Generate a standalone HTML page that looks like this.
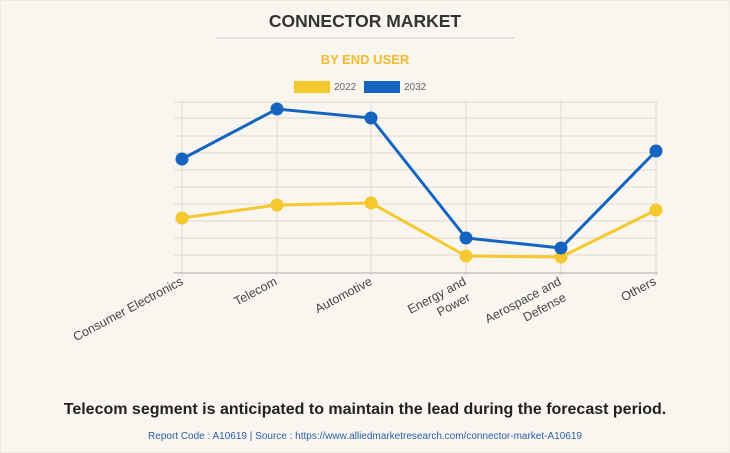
<!DOCTYPE html>
<html><head><style>
body{margin:0;background:#f9f6ef;}
svg{display:block;font-family:"Liberation Sans",Arial,sans-serif;}
</style></head><body>
<svg width="730" height="453" viewBox="0 0 730 453">
<rect x="0" y="0" width="730" height="453" fill="#f9f6ef" stroke="#e3e0da"/>
<text x="365" y="27" text-anchor="middle" font-size="17.5" font-weight="bold" fill="#333">CONNECTOR MARKET</text>
<line x1="216" y1="38" x2="514" y2="38" stroke="#ccc"/>
<text x="365" y="64" text-anchor="middle" font-size="13" font-weight="bold" fill="#f5b82e">BY END USER</text>
<rect x="294" y="81" width="36" height="12" fill="#f5c82e"/>
<text x="334" y="90" font-size="10" fill="#666">2022</text>
<rect x="364" y="81" width="36" height="12" fill="#1565c0"/>
<text x="404" y="90" font-size="10" fill="#666">2032</text>
<g stroke="#dedad2" stroke-width="1">
<line x1="174" y1="102" x2="658" y2="102"/><line x1="174" y1="118" x2="658" y2="118"/>
<line x1="174" y1="136" x2="658" y2="136"/><line x1="174" y1="153" x2="658" y2="153"/>
<line x1="174" y1="170" x2="658" y2="170"/><line x1="174" y1="187" x2="658" y2="187"/>
<line x1="174" y1="204" x2="658" y2="204"/><line x1="174" y1="221" x2="658" y2="221"/>
<line x1="174" y1="238" x2="658" y2="238"/><line x1="174" y1="255" x2="658" y2="255"/>
<line x1="182" y1="101" x2="182" y2="276"/><line x1="277" y1="101" x2="277" y2="276"/>
<line x1="371" y1="101" x2="371" y2="276"/><line x1="466" y1="101" x2="466" y2="276"/>
<line x1="561" y1="101" x2="561" y2="276"/><line x1="656" y1="101" x2="656" y2="276"/>
</g>
<line x1="174" y1="273" x2="658" y2="273" stroke="#aaa"/>
<polyline points="182,218 277,205 371,203 466,256 561,257 656,210" fill="none" stroke="#f5c82e" stroke-width="3"/>
<g fill="#f5c82e"><circle cx="182" cy="218" r="6.5"/><circle cx="277" cy="205" r="6.5"/><circle cx="371" cy="203" r="6.5"/><circle cx="466" cy="256" r="6.5"/><circle cx="561" cy="257" r="6.5"/><circle cx="656" cy="210" r="6.5"/></g>
<polyline points="182,159 277,109 371,118 466,238 561,248 656,151" fill="none" stroke="#1565c0" stroke-width="3"/>
<g fill="#1565c0"><circle cx="182" cy="159" r="6.5"/><circle cx="277" cy="109" r="6.5"/><circle cx="371" cy="118" r="6.5"/><circle cx="466" cy="238" r="6.5"/><circle cx="561" cy="248" r="6.5"/><circle cx="656" cy="151" r="6.5"/></g>
<g font-size="12.5" fill="#444" text-anchor="end">
<text transform="translate(184,284) rotate(-28)">Consumer Electronics</text>
<text transform="translate(278,284) rotate(-28)">Telecom</text>
<text transform="translate(373,284) rotate(-28)">Automotive</text>
<text transform="translate(467,284) rotate(-28)">Energy and</text>
<text transform="translate(471,300) rotate(-28)">Power</text>
<text transform="translate(562,284) rotate(-28)">Aerospace and</text>
<text transform="translate(567,300) rotate(-28)">Defense</text>
<text transform="translate(657,284) rotate(-28)">Others</text>
</g>
<text x="365" y="414" text-anchor="middle" font-size="16" font-weight="bold" fill="#222">Telecom segment is anticipated to maintain the lead during the forecast period.</text>
<text x="365" y="439" text-anchor="middle" font-size="10" fill="#2a5db0">Report Code : A10619  |  Source : https://www.alliedmarketresearch.com/connector-market-A10619</text>
</svg>
</body></html>
